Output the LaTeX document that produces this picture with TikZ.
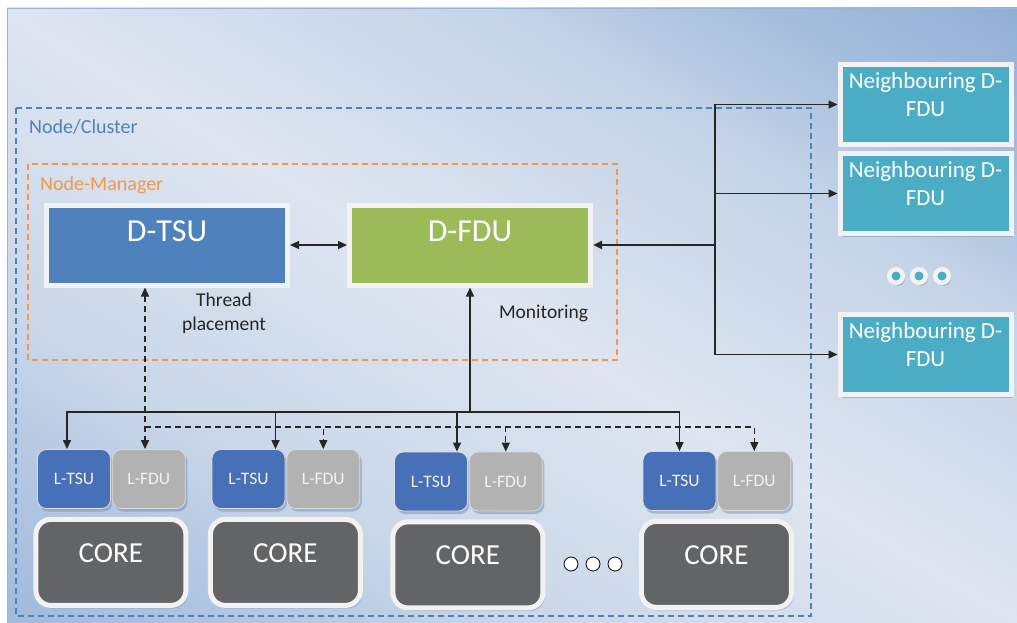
\documentclass[tikz,border=0pt]{standalone}
\usepackage{fontspec}
\setmainfont{Carlito}
\usetikzlibrary{calc,positioning,arrows.meta,shadows}

\definecolor{bgdark}{HTML}{90AED5}
\definecolor{bglow}{HTML}{A0BADB}
\definecolor{bglight}{HTML}{DDE5F0}
\colorlet{bgtop}{bgdark!32!bglight}
\colorlet{bgtopb}{bgdark!69!bglight}
\colorlet{bgbot}{bglow!32!bglight}
\colorlet{bgbotb}{bglow!69!bglight}
\definecolor{bgedge}{HTML}{9AB5D8}
\definecolor{clusterc}{HTML}{4F81BD}
\definecolor{managerc}{HTML}{F79646}
\definecolor{rim}{HTML}{F2F2F2}
\definecolor{tsufill}{HTML}{4F81BD}
\definecolor{fdufill}{HTML}{9BBB59}
\definecolor{nbfill}{HTML}{4BACC6}
\definecolor{ltsufill}{HTML}{4870B8}
\definecolor{lfdufill}{HTML}{B2B2B2}
\definecolor{corefill}{HTML}{636466}
\definecolor{linec}{HTML}{262626}
\definecolor{shadowc}{HTML}{6F86A6}

\pgfdeclareverticalshading{bgshade}{100bp}{color(0bp)=(bglow); color(25bp)=(bglow);
  color(32bp)=(bgbotb); color(38bp)=(bgbot); color(50bp)=(bglight); color(62bp)=(bgtop);
  color(68bp)=(bgtopb); color(75bp)=(bgdark); color(100bp)=(bgdark)}

\begin{document}
\begin{tikzpicture}[x=1pt,y=-1pt,>={Triangle[length=9pt,width=8pt]},
  softshadow/.style={drop shadow={shadow xshift=2pt,shadow yshift=-3pt,fill=shadowc,opacity=.45}},
  bigbox/.style={draw=rim,line width=5pt,inner sep=0pt,minimum width=241pt,minimum height=80pt,
    text=white,font=\fontsize{32}{38}\selectfont,text height=0pt,text depth=7pt,softshadow},
  nbbox/.style={draw=rim,line width=5pt,inner sep=0pt,minimum width=171pt,minimum height=80pt,fill=nbfill,softshadow},
  nbtext/.style={text=white,align=center,font=\fontsize{23}{28}\selectfont},
  unit/.style={draw=rim!80!gray,line width=0.8pt,rounded corners=9pt,inner sep=0pt,
    minimum width=73pt,minimum height=59pt,font=\fontsize{17.5}{20}\selectfont,softshadow},
  coreblk/.style={draw=rim,line width=5pt,rounded corners=15pt,inner sep=0pt,minimum width=150pt,
    minimum height=86pt,fill=corefill,text=white,font=\fontsize{29}{34}\selectfont,
    text height=0pt,text depth=0pt,softshadow},
  link/.style={draw=linec,line width=1.3pt},
  dlink/.style={draw=linec,line width=1.3pt,dash pattern=on 6pt off 4pt},
  frame/.style={line width=1.2pt,dash pattern=on 6pt off 4pt},
  note/.style={text=linec,font=\fontsize{19.5}{24}\selectfont}]

\useasboundingbox (0,0) rectangle (1017,623);
% background
\begin{scope}
  \clip (7,8) rectangle (1017,623);
  \shade[shading=bgshade,transform canvas={rotate around={-31:(512,315.5)}}]
    (-88,-214.5) rectangle (1112,845.5);
\end{scope}
\draw[bgedge,line width=1pt] (1017,8.5) -- (7.5,8.5) -- (7.5,623);

% frames
\draw[frame,clusterc] (16,108) rectangle (811,616);
\node[anchor=base west,inner sep=0pt,text=clusterc,font=\fontsize{20}{24}\selectfont] (clusterlbl) at (29,134) {Node/Cluster};
\draw[frame,managerc] (28,164) rectangle (617,360);
\node[anchor=base west,inner sep=0pt,text=managerc,font=\fontsize{20}{24}\selectfont] (managerlbl) at (40,190) {Node-Manager};

% node manager
\node[bigbox,fill=tsufill] (dtsu) at (167,245) {D-TSU};
\node[bigbox,fill=fdufill] (dfdu) at (470,245) {D-FDU};
\node[note,align=center] (thread) at (224,313) {Thread\\placement};
\node[note,anchor=base] (monitor) at (543.5,318) {Monitoring};

% neighbours
\node[nbbox] (nb1) at (925.5,104.5) {};
\node[nbbox] (nb2) at (925.5,193.5) {};
\node[nbbox] (nb3) at (925.5,354.5) {};
\foreach \k in {1,2,3}
  \node[nbtext] (nb\k txt) at ([yshift=10pt]nb\k.center) {Neighbouring D-\\FDU};
\foreach \k/\x in {1/896,2/919,3/942}
  \node[circle,fill=nbfill,draw=rim,line width=4.5pt,minimum size=13.5pt,inner sep=0pt,softshadow] (rd\k) at (\x,276) {};

% cores
\foreach \i/\x/\y in {1/74/479,2/248.5/479,3/431/481.5,4/679.5/481}{
  \node[unit,fill=ltsufill,text=rim] (ltsu\i) at (\x,\y) {L-TSU};
  \node[unit,fill=lfdufill,text=rim,right=1pt of ltsu\i] (lfdu\i) {L-FDU};
  \node[coreblk,below=8pt of ltsu\i.south east] (core\i) {CORE};
}
\foreach \k/\x in {1/571,2/593,3/615}
  \node[circle,draw=black,line width=0.8pt,fill=white,minimum size=14pt,inner sep=0pt] (bd\k) at (\x,564) {};

% connectors
\draw[link,<->] (dtsu) -- (dfdu);

\coordinate (rbus) at (715,245);
\draw[link,line width=2.4pt,->] (rbus) -- (dfdu.east);
\draw[link,->] (rbus) |- (nb1.west);
\draw[link,->] (rbus) |- (nb2.west);
\draw[link,->] (rbus) |- (nb3.west);

\coordinate (mbus) at (470,412);
\draw[link,<-] (dfdu.south) -- (mbus);
\draw[link,->] (mbus) -| ($(ltsu1.north)+(-7,0)$);
\draw[link,->] (mbus) -| ($(ltsu2.north)+(27,0)$);
\draw[link,->] (mbus) -| ($(ltsu3.north)+(26,0)$);
\draw[link,->] (mbus) -| (ltsu4.north);

\coordinate (dbus) at (145,427);
\draw[dlink,<->] (dtsu.south -| dbus) -- (lfdu1.north -| dbus);
\draw[dlink,->] (dbus) -| (lfdu2.north);
\draw[dlink,->] (dbus) -| (lfdu3.north);
\draw[dlink,->] (dbus) -| (lfdu4.north);
\end{tikzpicture}
\end{document}
